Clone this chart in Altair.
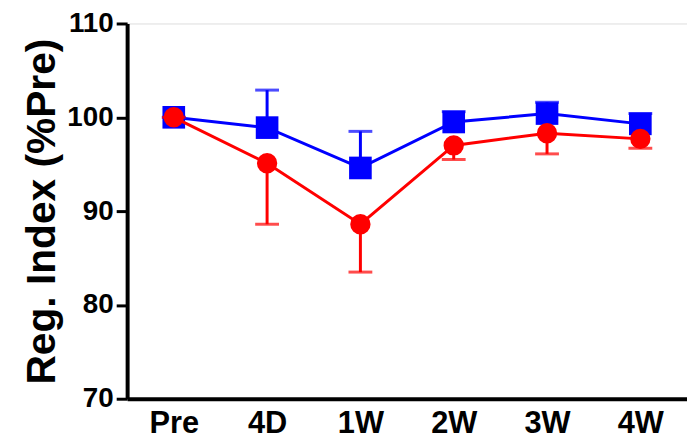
import altair as alt
import pandas as pd

times = ["Pre", "4D", "1W", "2W", "3W", "4W"]
blue_mean = [100, 98.9, 94.6, 99.5, 100.4, 99.3]
blue_err = [0, 4.0, 3.9, 1.1, 1.2, 1.1]
red_mean = [100, 95.1, 88.6, 97.0, 98.3, 97.7]
red_err = [0, 6.5, 5.1, 1.5, 2.2, 1.0]

rows = []
for t, m, e in zip(times, blue_mean, blue_err):
    rows.append({"time": t, "series": "blue", "mean": m, "end": m + e})
for t, m, e in zip(times, red_mean, red_err):
    rows.append({"time": t, "series": "red", "mean": m, "end": m - e})
df = pd.DataFrame(rows)

FONT = "Liberation Sans"

x = alt.X("time:N", sort=times, scale=alt.Scale(type="point", padding=0.5),
          axis=alt.Axis(title=None, ticks=False, labelAngle=0, labelFontSize=31,
                        labelFont=FONT, labelFontWeight="bold", labelColor="black",
                        domainColor="black", domainWidth=4, labelPadding=10))
y_scale = alt.Scale(domain=[70, 110], nice=False, zero=False)
y_axis = alt.Axis(title="Reg. Index (%Pre)", values=[70, 80, 90, 100, 110],
                  tickSize=11, tickWidth=3, tickColor="black", domainColor="black",
                  domainWidth=4, labelFontSize=28, labelFont=FONT, labelFontWeight="bold",
                  labelColor="black", labelPadding=3, titleFontSize=41, titleFont=FONT,
                  titleFontWeight="bold", titleColor="black", titlePadding=3, grid=False)


def series_layers(name, color, shape, size):
    d = df[df.series == name]
    base = alt.Chart(d)
    err = base.mark_rule(color=color, strokeWidth=3).encode(
        x=x, y=alt.Y("mean:Q", scale=y_scale, axis=y_axis), y2="end:Q")
    cap = base.mark_tick(color=color, thickness=3, size=24).encode(
        x=x, y=alt.Y("end:Q", scale=y_scale))
    line = base.mark_line(color=color, strokeWidth=3).encode(
        x=x, y=alt.Y("mean:Q", scale=y_scale))
    pts = base.mark_point(color=color, filled=True, shape=shape, size=size, opacity=1).encode(
        x=x, y=alt.Y("mean:Q", scale=y_scale))
    return [err, cap, line, pts]

chart = alt.layer(
    *series_layers("blue", "#0000FF", "square", 520),
    *series_layers("red", "#FF0000", "circle", 420),
).properties(
    width=564, height=378,
    autosize=alt.AutoSizeParams(type="none"),
    padding={"left": 120, "top": 14, "right": 0, "bottom": 43},
).configure_view(stroke=None).configure(background="white")

chart.save("out.html", embed_options={"renderer": "svg", "actions": False})
